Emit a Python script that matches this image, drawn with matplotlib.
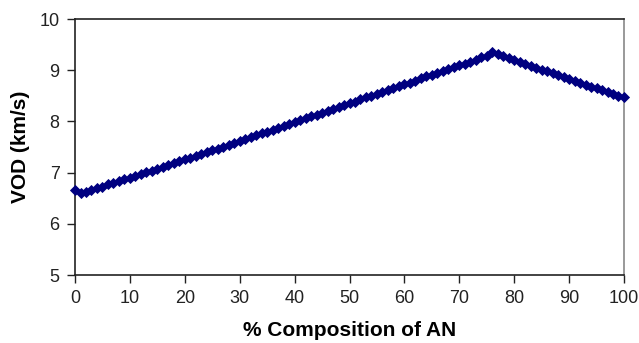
import matplotlib
matplotlib.use("Agg")
import matplotlib.pyplot as plt

# % AN in the mixture, 0..100 in steps of 1
an_percent = list(range(0, 101))

# VOD (km/s)
vod = [
    6.66, 6.61, 6.63, 6.67, 6.70, 6.73, 6.77, 6.80, 6.83, 6.87,
    6.90, 6.94, 6.97, 7.01, 7.04, 7.08, 7.11, 7.15, 7.19, 7.22,
    7.26, 7.29, 7.33, 7.37, 7.40, 7.44, 7.47, 7.51, 7.55, 7.58,
    7.62, 7.66, 7.69, 7.73, 7.77, 7.80, 7.84, 7.88, 7.91, 7.95,
    7.99, 8.02, 8.06, 8.10, 8.13, 8.17, 8.21, 8.24, 8.28, 8.32,
    8.36, 8.39, 8.43, 8.47, 8.50, 8.54, 8.58, 8.62, 8.65, 8.69,
    8.73, 8.76, 8.80, 8.84, 8.88, 8.91, 8.95, 8.99, 9.02, 9.06,
    9.10, 9.13, 9.17, 9.21, 9.25, 9.28, 9.36, 9.31, 9.27, 9.23,
    9.20, 9.16, 9.12, 9.09, 9.05, 9.01, 8.98, 8.94, 8.90, 8.87,
    8.83, 8.79, 8.76, 8.72, 8.68, 8.65, 8.61, 8.57, 8.54, 8.50,
    8.47,
]

x_ticks = [0, 10, 20, 30, 40, 50, 60, 70, 80, 90, 100]
y_ticks = [5, 6, 7, 8, 9, 10]

plt.rcParams['font.family'] = ['Liberation Sans', 'DejaVu Sans']

fig = plt.figure(figsize=(6.39, 3.43), dpi=100)
ax = fig.add_axes([0.1174, 0.198, 0.8591, 0.7464])

ax.plot(an_percent, vod, '-D', color='#000080', markersize=5, linewidth=2,
        markeredgewidth=0.6, clip_on=False, zorder=3)

ax.set_xlim(0, 100)
ax.set_ylim(5, 10)
ax.set_xticks(x_ticks)
ax.set_yticks(y_ticks)
ax.tick_params(axis='both', direction='out', length=6, width=1, labelsize=13,
               colors='#222222', pad=5)

for side in ['left', 'bottom', 'top']:
    ax.spines[side].set_color('#222222')
    ax.spines[side].set_linewidth(1.2)
ax.spines['right'].set_color('#888888')
ax.spines['right'].set_linewidth(1.2)

ax.set_xlabel('% Composition of AN', fontsize=15, fontweight='bold', labelpad=10)
ax.set_ylabel('VOD (km/s)', fontsize=15, fontweight='bold', labelpad=7)

fig.savefig('out.png', dpi=100)
